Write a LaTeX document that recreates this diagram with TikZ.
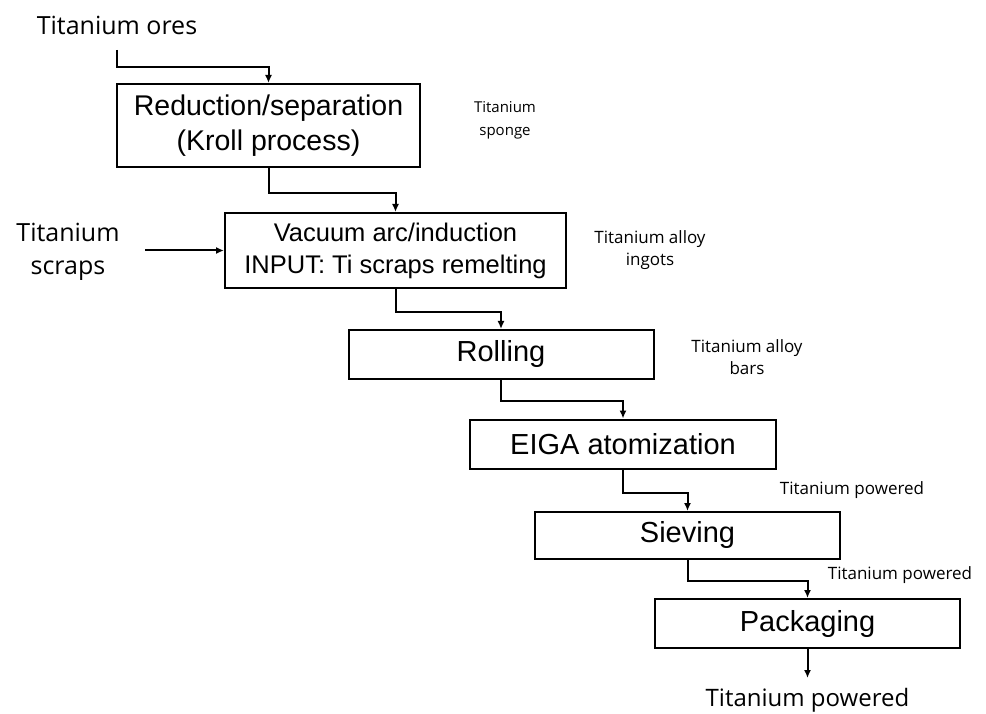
\documentclass[tikz,border=0pt]{standalone}
\usepackage{fontspec}
\setmainfont{Liberation Sans}
\newfontfamily\labelfont{Open Sans}
\usetikzlibrary{arrows.meta}
\tikzset{
	stepbox/.style={draw, line width=2pt, inner sep=0pt, align=center, font=\fontsize{29}{34}\selectfont},
	flow/.style={line width=2pt, -{Latex[length=8pt,width=7pt]}},
	note/.style={align=center, font=\labelfont\fontsize{17}{22}\selectfont},
	biglabel/.style={align=center, font=\labelfont\fontsize{25}{31}\selectfont}
}
\begin{document}
\begin{tikzpicture}[x=1pt,y=-1pt]
	\useasboundingbox (0,0) rectangle (986,714);
	% Prozessschritte
	\node [stepbox, minimum width=303pt, minimum height=83pt, font=\fontsize{28.5}{35}\selectfont] (kroll) at (268.5,125.5) {Reduction/separation\\(Kroll process)};
	\node [stepbox, minimum width=341pt, minimum height=75pt, font=\fontsize{25.5}{32}\selectfont] (melt) at (395.5,250.5) {Vacuum arc/induction\\INPUT: Ti scraps remelting};
	\node [stepbox, minimum width=305pt, minimum height=49pt] (roll) at (501,354.5) {Rolling};
	\node [stepbox, minimum width=306pt, minimum height=49pt] (eiga) at (623,444) {EIGA atomization};
	\node [stepbox, minimum width=305pt, minimum height=47pt] (sieve) at (687.5,535.5) {Sieving};
	\node [stepbox, minimum width=305pt, minimum height=49pt] (pack) at (807.5,623.5) {Packaging};
	% Eingaenge
	\node [biglabel] (ores) at (117,25) {Titanium ores};
	\coordinate (oresend) at (117,50);
	\node [biglabel, font=\labelfont\fontsize{25}{33}\selectfont] (scraps) at (68,252) {Titanium\\scraps};
	\coordinate (scrapsend) at (145,250.5);
	% Zwischenprodukte
	\node [note, font=\labelfont\fontsize{15}{23}\selectfont] (sponge) at (505,120) {Titanium\\sponge};
	\node [note] (ingots) at (650,250) {Titanium alloy\\ingots};
	\node [note] (bars) at (747,357) {Titanium alloy\\bars};
	\node [note] (powder1) at (852,490) {Titanium powered};
	\node [note] (powder2) at (900,575) {Titanium powered};
	% Ausgang
	\coordinate (outend) at (807.5,678);
	\node [biglabel, font=\labelfont\fontsize{24}{30}\selectfont] (out) at (807.5,700) {Titanium powered};
	% Pfeile
	\draw [flow] (oresend) -- ++(0,17) -| (kroll.north);
	\draw [flow] (kroll.south) -- ++(0,25) -| (melt.north);
	\draw [flow] (scrapsend) -- (melt.west);
	\draw [flow] (melt.south) -- ++(0,23) -| (roll.north);
	\draw [flow] (roll.south) -- ++(0,21) -| (eiga.north);
	\draw [flow] (eiga.south) -- ++(0,23) -| (sieve.north);
	\draw [flow] (sieve.south) -- ++(0,21) -| (pack.north);
	\draw [flow] (pack.south) -- (outend);
\end{tikzpicture}
\end{document}
